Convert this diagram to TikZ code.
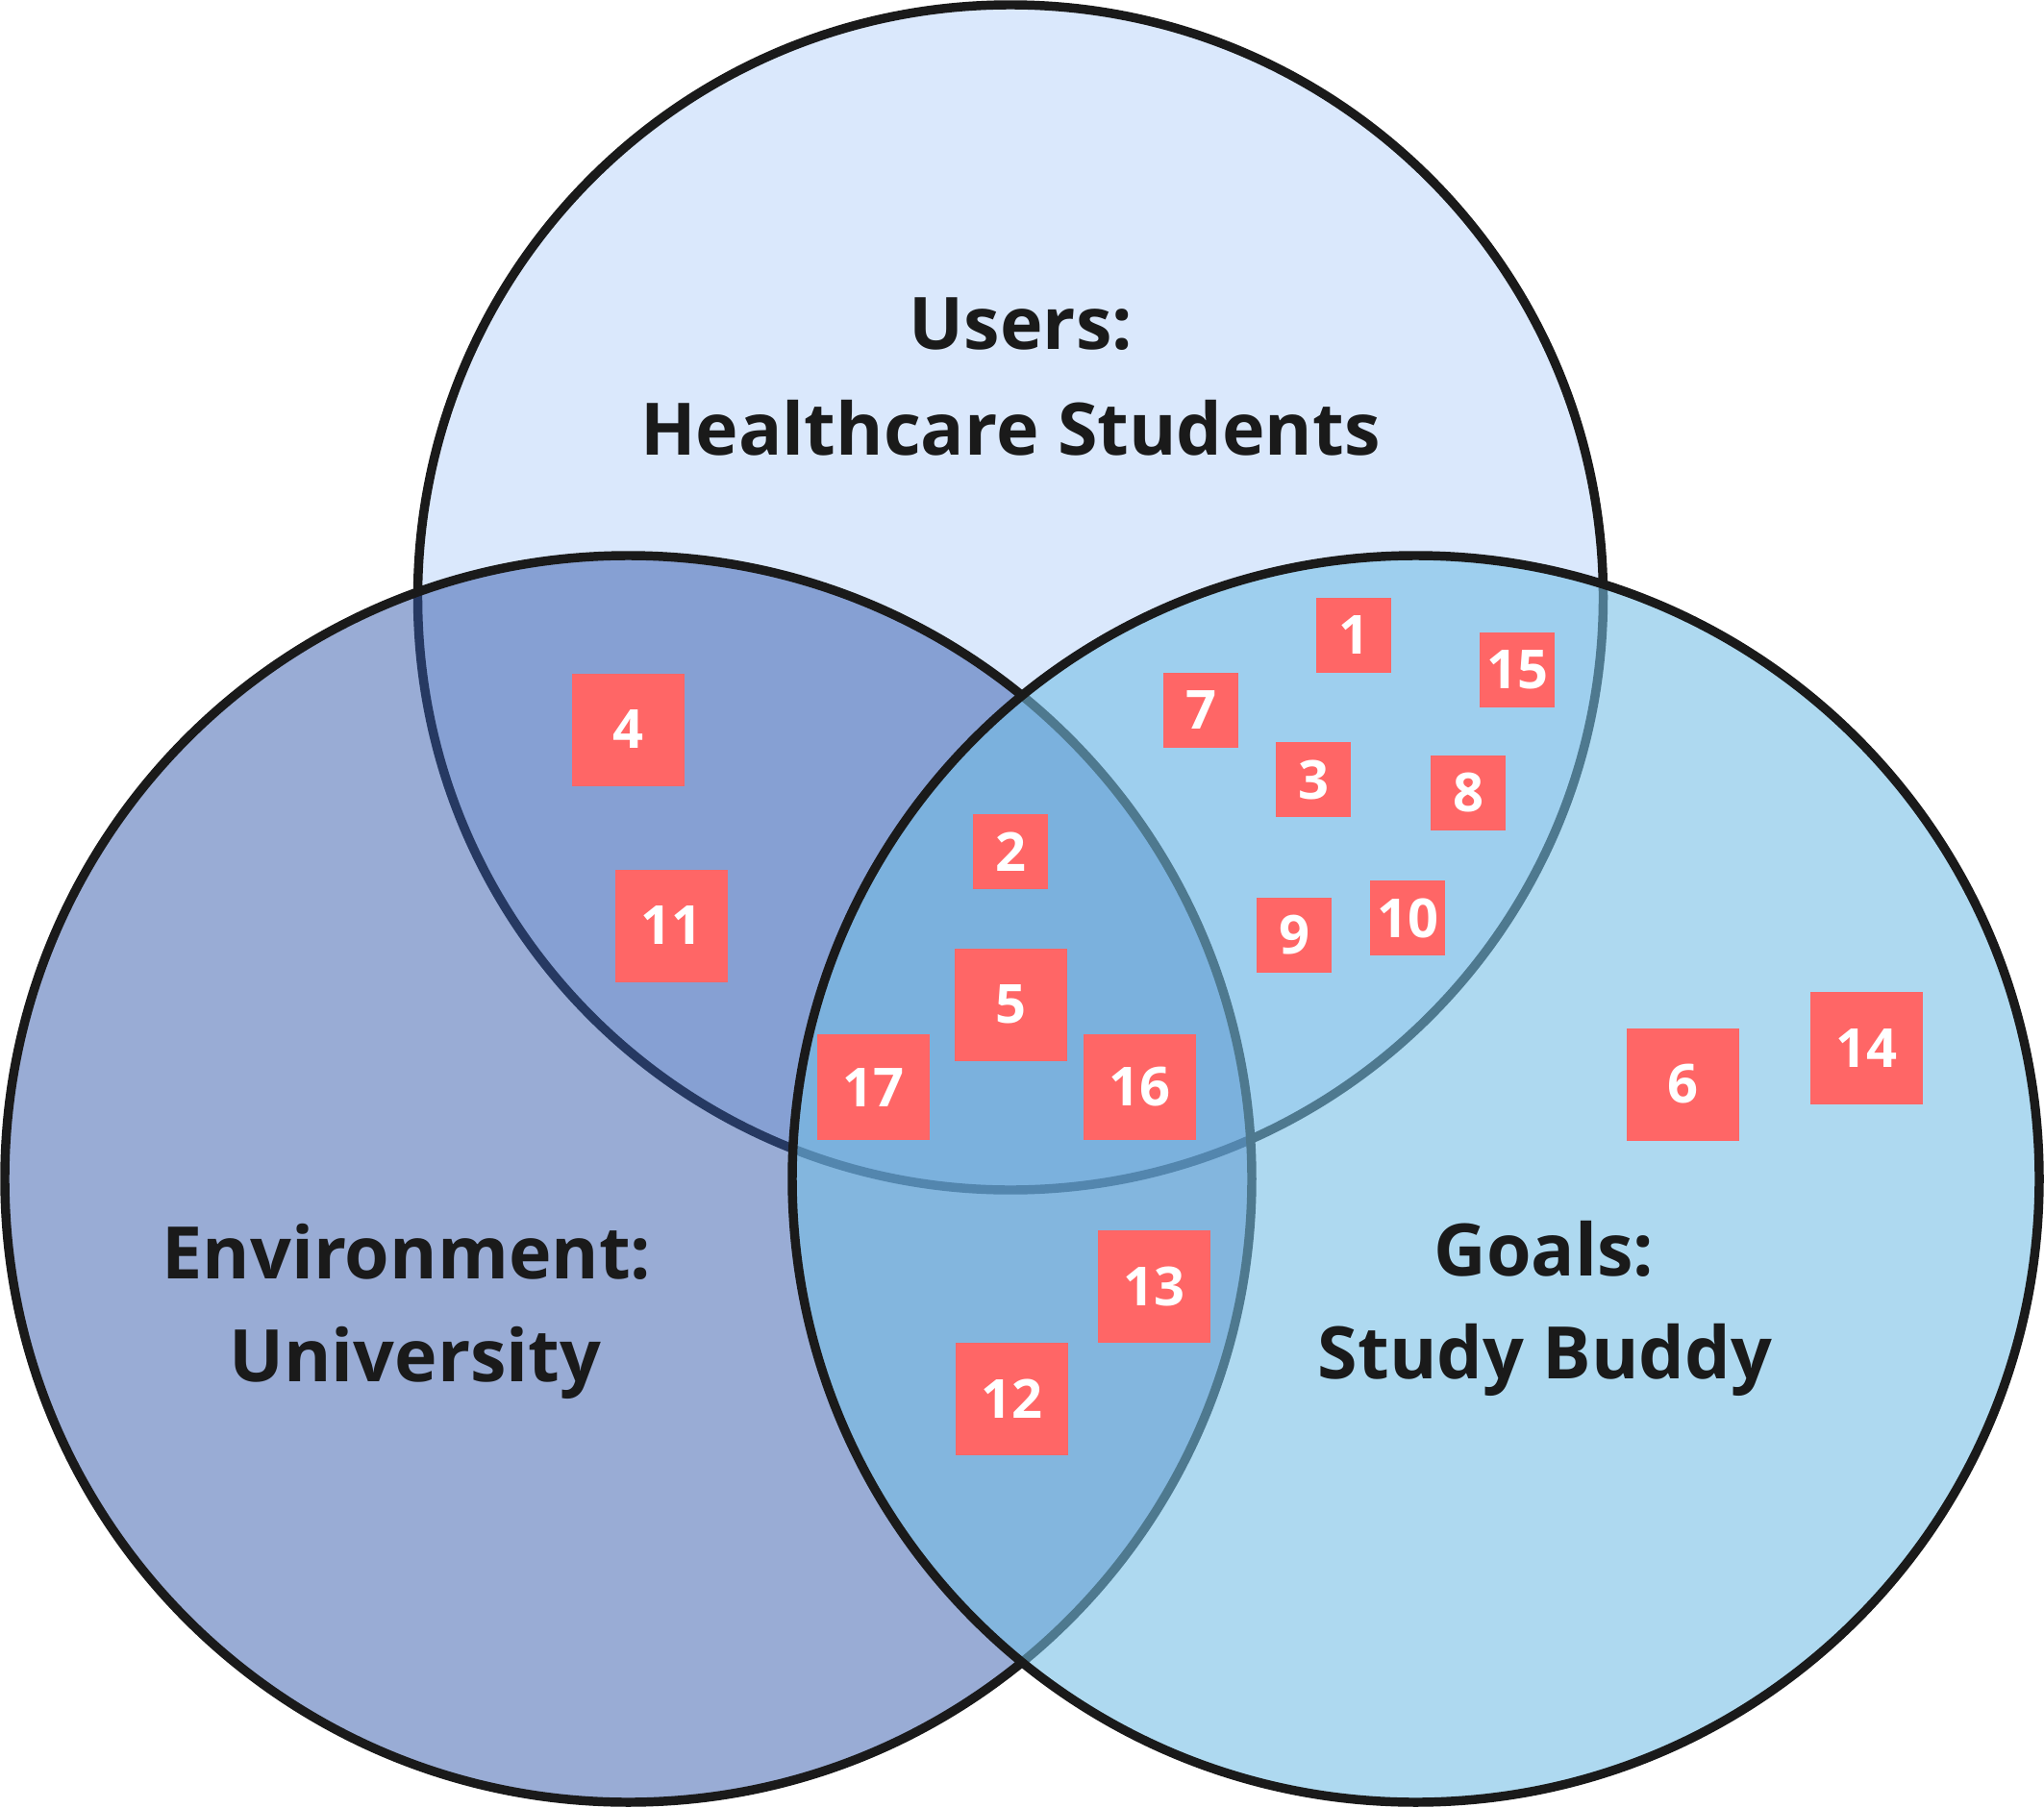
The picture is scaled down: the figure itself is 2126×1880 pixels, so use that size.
\documentclass[tikz,border=0pt]{standalone}
\usepackage{fontspec}
\setmainfont{Open Sans}
\definecolor{inkline}{RGB}{26,26,26}
\definecolor{usersfill}{RGB}{218,232,252}
\definecolor{envfill}{RGB}{51,89,171}
\definecolor{goalsfill}{RGB}{116,190,229}
\definecolor{notered}{RGB}{255,102,102}
\tikzset{every picture/.style={line width=0.75pt}}
\tikzset{
  ring/.style={draw=inkline, line width=7.1pt},
  note/.style={fill=notered, inner sep=0pt, text=white, font=\fontsize{42}{50}\selectfont\bfseries},
  smallnote/.style={note, minimum width=58.5pt, minimum height=58.5pt},
  bignote/.style={note, minimum width=87.75pt, minimum height=87.75pt},
  widenote/.style={note, minimum width=87.75pt, minimum height=82.5pt},
  setlabel/.style={anchor=base, inner sep=0pt, text=inkline, font=\fontsize{56.5}{80}\selectfont\bfseries}
}

\begin{document}
\begin{tikzpicture}[x=0.75pt,y=0.75pt,yscale=-1,xscale=1]
\path[use as bounding box] (0,0) rectangle (2126,1880);

%Shape: Circle (users)
\draw[ring, fill=usersfill] (1051,621.5) circle (616.5);
%Shape: Circle (environment)
\draw[ring, fill=envfill, fill opacity=0.5] (653.5,1226.5) circle (648.5);
%Shape: Circle (goals)
\draw[ring, fill=goalsfill, fill opacity=0.58] (1472.5,1226.5) circle (648.5);

% Text Node
\node[setlabel] (users) at (1062,363) {Users:};
% Text Node
\node[setlabel] (userstwo) at (1051,473) {Healthcare Students};
% Text Node
\node[setlabel] (env) at (423,1330) {Environment:};
% Text Node
\node[setlabel] (envtwo) at (432,1437) {University};
% Text Node
\node[setlabel] (goals) at (1606,1327) {Goals:};
% Text Node
\node[setlabel] (goalstwo) at (1607,1434) {Study Buddy};

% Sticky notes
\node[smallnote] (n1) at (1408,661) {1};
\node[smallnote] (n15) at (1578,697) {15};
\node[smallnote] (n7) at (1249,739) {7};
\node[bignote] (n4) at (653,759) {4};
\node[smallnote] (n3) at (1366,811) {3};
\node[smallnote] (n8) at (1527,825) {8};
\node[smallnote] (n2) at (1051,886) {2};
\node[bignote] (n11) at (698,963) {11};
\node[smallnote] (n9) at (1346,973) {9};
\node[smallnote] (n10) at (1464,955) {10};
\node[bignote] (n5) at (1051,1045) {5};
\node[widenote] (n17) at (908,1131) {17};
\node[widenote] (n16) at (1185,1131) {16};
\node[bignote] (n6) at (1750,1128) {6};
\node[bignote] (n14) at (1941,1090) {14};
\node[bignote] (n13) at (1200,1338) {13};
\node[bignote] (n12) at (1052,1455) {12};

\end{tikzpicture}
\end{document}
